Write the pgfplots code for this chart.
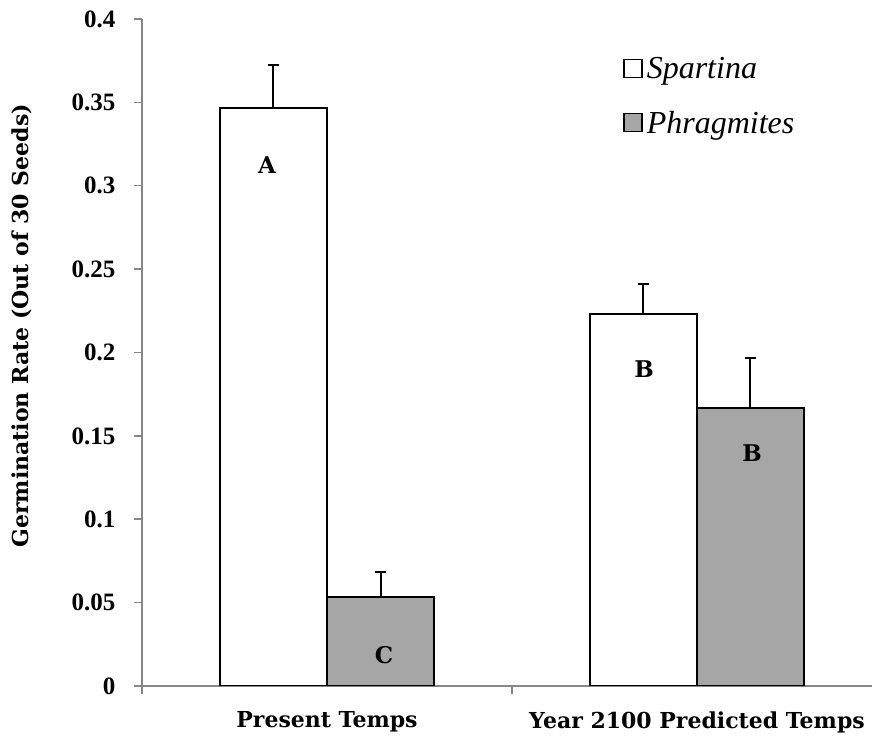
\documentclass[border=0pt]{standalone}
\usepackage{fontspec}
\setmainfont{DejaVu Serif}
\newfontfamily\numfont{Liberation Serif}
\usepackage{pgfplots}
\pgfplotsset{compat=1.18}

\definecolor{axisgray}{HTML}{868686}
\definecolor{phragfill}{HTML}{A6A6A6}

\begin{document}
\begin{tikzpicture}[x=1pt,y=1pt]
\path[use as bounding box] (0,0) rectangle (873,738);
\begin{axis}[
  at={(142pt,52pt)}, anchor=south west,
  width=730pt, height=667pt, scale only axis,
  xmin=-0.5, xmax=1.473, ymin=0, ymax=0.4,
  axis x line*=bottom, axis y line*=left,
  axis line style={draw=axisgray, line width=1.5pt, -},
  tick align=outside,
  major tick length=8pt,
  tick style={draw=axisgray, line width=1.5pt},
  ytick={0,0.05,0.1,0.15,0.2,0.25,0.3,0.35,0.4},
  yticklabels={0,0.05,0.1,0.15,0.2,0.25,0.3,0.35,0.4},
  yticklabel style={font=\numfont\bfseries\fontsize{25}{25}\selectfont, xshift=-15pt},
  xtick={-0.5,0.5},
  xticklabels={},
  extra x ticks={0,1},
  extra x tick labels={Present Temps, Year 2100 Predicted Temps},
  extra x tick style={major tick length=0pt,
    xticklabel style={font=\bfseries\fontsize{22}{22}\selectfont, yshift=-22pt}},
  ylabel={Germination Rate (Out of 30 Seeds)},
  ylabel style={font=\bfseries\fontsize{22}{22}\selectfont,
    at={(axis description cs:-0.165,0.54)}, anchor=center},
  ybar,
  bar width=107pt,
  legend style={at={(axis description cs:0.659,0.946)}, anchor=north west,
    draw=none, fill=none, inner sep=0pt,
    font=\numfont\itshape\fontsize{32}{32}\selectfont,
    row sep=27pt, legend cell align=left,
    nodes={inner xsep=4pt}},
  legend image code/.code={\draw[#1,line width=1.5pt] (0pt,-9pt) rectangle (18pt,9pt);},
]
% Spartina
\addplot[fill=white, draw=black, line width=2pt, bar shift=-53.5pt,
  error bars/.cd, y dir=plus, y explicit,
  error bar style={line width=2pt, black},
  error mark options={rotate=90, mark size=5.5pt, line width=2pt, black}]
  coordinates {(0,0.3467) +- (0,0.0260) (1,0.2233) +- (0,0.0177)};
% Phragmites
\addplot[fill=phragfill, draw=black, line width=2pt, bar shift=53.5pt,
  error bars/.cd, y dir=plus, y explicit,
  error bar style={line width=2pt, black},
  error mark options={rotate=90, mark size=5.5pt, line width=2pt, black}]
  coordinates {(0,0.0533) +- (0,0.0151) (1,0.1667) +- (0,0.0298)};
\legend{Spartina, Phragmites}
% significance letters
\node[font=\bfseries\fontsize{23}{23}\selectfont] at (axis cs:-0.162,0.3124) {A};
\node[font=\bfseries\fontsize{23}{23}\selectfont] at (axis cs:0.154,0.0186) {C};
\node[font=\bfseries\fontsize{23}{23}\selectfont] at (axis cs:0.857,0.1900) {B};
\node[font=\bfseries\fontsize{23}{23}\selectfont] at (axis cs:1.149,0.1397) {B};
\end{axis}
\end{tikzpicture}
\end{document}
